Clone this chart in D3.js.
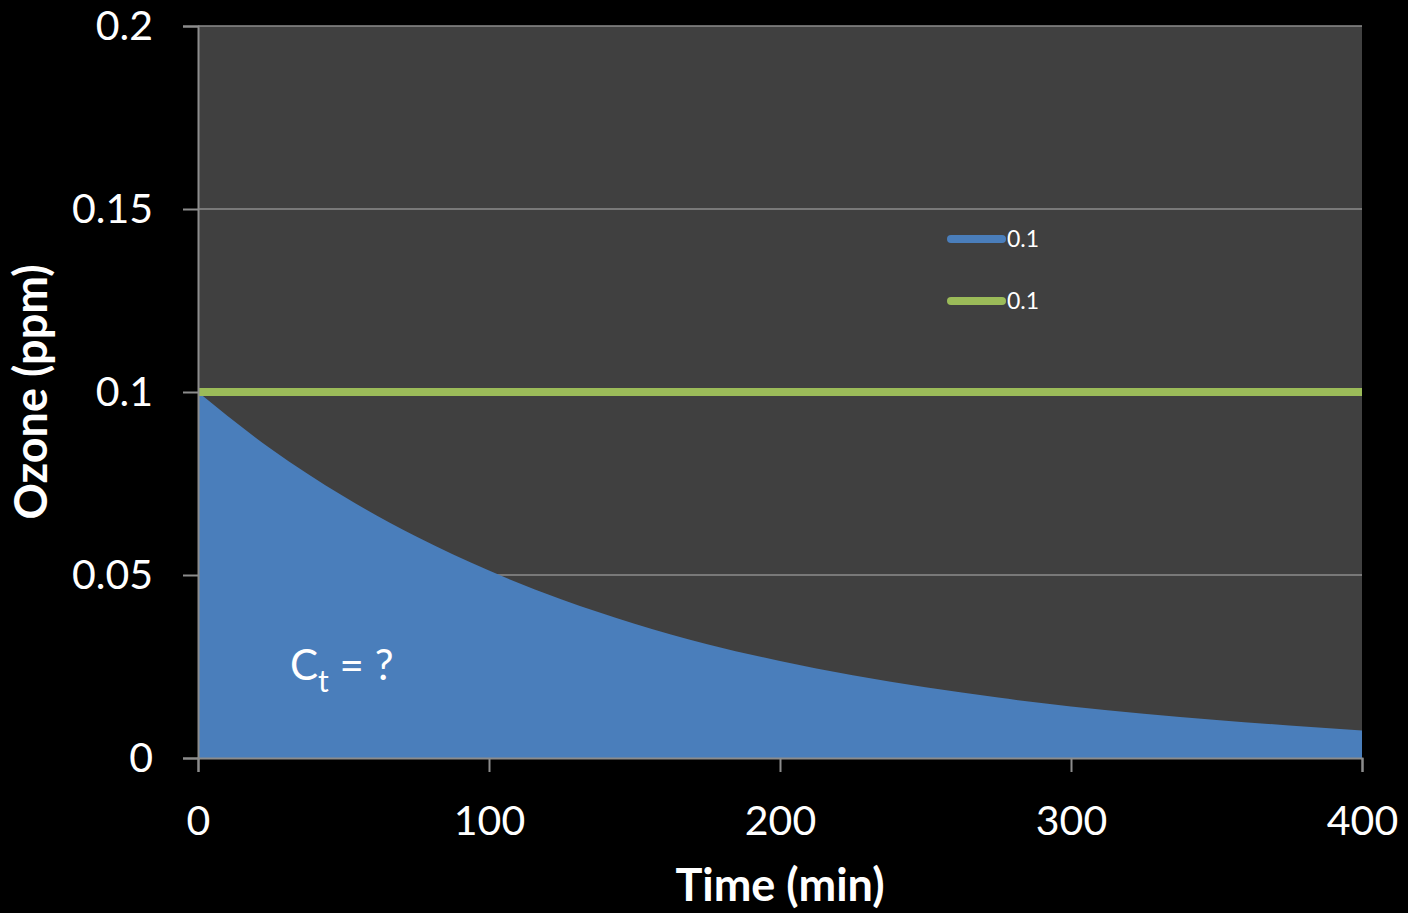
<!DOCTYPE html>
<html><head><meta charset="utf-8">
<script src="https://cdn.jsdelivr.net/npm/d3@7"></script>
<style>html,body{margin:0;padding:0;background:#000;}svg{display:block;}</style>
</head><body>
<script>
const times = [0, 25, 50, 75, 100, 125, 150, 175, 200, 225, 250, 275, 300, 325, 350, 375, 400];
const ozone = [0.100, 0.0845, 0.0715, 0.0605, 0.0512, 0.0433, 0.0367, 0.0311, 0.0265, 0.0226, 0.0193, 0.0165, 0.0141, 0.0121, 0.0104, 0.0089, 0.0075];
const constantLevel = [0.1, 0.1];
const constantTimes = [0, 400];
const xTicks = [0, 100, 200, 300, 400];
const yTicks = [0, 0.05, 0.1, 0.15, 0.2];
const yTickLabels = ["0", "0.05", "0.1", "0.15", "0.2"];
const legendLabels = ["0.1", "0.1"];

const W = 1408, H = 913;
const m = {left: 198, right: 1362, top: 26, bottom: 758};
const font = "Lato, 'Open Sans', sans-serif";

const svg = d3.select("body").append("svg").attr("width", W).attr("height", H);
svg.append("rect").attr("width", W).attr("height", H).attr("fill", "#000");

const x = d3.scaleLinear().domain([0, 400]).range([m.left, m.right]);
const y = d3.scaleLinear().domain([0, 0.2]).range([m.bottom, m.top]);

svg.append("rect").attr("x", m.left).attr("y", m.top)
  .attr("width", m.right - m.left).attr("height", m.bottom - m.top).attr("fill", "#404040");

// gridlines
svg.append("g").selectAll("line").data(yTicks.filter(d => d > 0)).join("line")
  .attr("x1", m.left).attr("x2", m.right)
  .attr("y1", d => y(d)).attr("y2", d => y(d))
  .attr("stroke", "#8c8c8c").attr("stroke-width", 1.5);

// area
const data = times.map((t, i) => ({t, v: ozone[i]}));
svg.append("path").datum(data)
  .attr("d", d3.area().x(d => x(d.t)).y0(y(0)).y1(d => y(d.v)).curve(d3.curveMonotoneX))
  .attr("fill", "#4a7ebb");

// green line
svg.append("path").datum(constantTimes.map((t, i) => ({t, v: constantLevel[i]})))
  .attr("d", d3.line().x(d => x(d.t)).y(d => y(d.v)))
  .attr("stroke", "#9bbb59").attr("stroke-width", 8).attr("fill", "none");

// axes
const yAxis = d3.axisLeft(y).tickValues(yTicks).tickFormat((d, i) => yTickLabels[i]).tickSize(15).tickPadding(30);
const gy = svg.append("g").attr("transform", `translate(${m.left},0)`).call(yAxis);
gy.select(".domain").attr("stroke", "#8c8c8c").attr("stroke-width", 2);
gy.selectAll(".tick line").attr("stroke", "#8c8c8c").attr("stroke-width", 2);
gy.selectAll(".tick text").attr("fill", "#fff").attr("font-size", 41).attr("font-family", font).attr("dy", "0.34em");

const xAxis = d3.axisBottom(x).tickValues(xTicks).tickFormat(d3.format("d")).tickSize(14).tickPadding(34);
const gx = svg.append("g").attr("transform", `translate(0,${m.bottom})`).call(xAxis);
gx.select(".domain").attr("stroke", "#8c8c8c").attr("stroke-width", 2);
gx.selectAll(".tick line").attr("stroke", "#8c8c8c").attr("stroke-width", 2);
gx.selectAll(".tick text").attr("fill", "#fff").attr("font-size", 41).attr("font-family", font);

// axis titles
svg.append("text").attr("x", 780).attr("y", 901)
  .attr("text-anchor", "middle").attr("fill", "#fff").attr("font-size", 45)
  .attr("font-weight", "bold").attr("font-family", font).text("Time (min)");
svg.append("text").attr("transform", `translate(47,${(m.top + m.bottom) / 2}) rotate(-90)`)
  .attr("text-anchor", "middle").attr("fill", "#fff").attr("font-size", 45)
  .attr("font-weight", "bold").attr("font-family", font).text("Ozone (ppm)");

// annotation
const ann = svg.append("text").attr("x", 290).attr("y", 680).attr("fill", "#fff")
  .attr("font-size", 42).attr("font-family", font);
ann.append("tspan").text("C");
ann.append("tspan").attr("font-size", 30).attr("dy", 12).text("t");
ann.append("tspan").attr("dy", -12).text(" = ?");

// legend
const legColors = ["#4a7ebb", "#9bbb59"];
const leg = svg.append("g");
legendLabels.forEach((lab, i) => {
  const ly = 239 + i * 62;
  leg.append("line").attr("x1", 951).attr("x2", 1002).attr("y1", ly).attr("y2", ly)
    .attr("stroke", legColors[i]).attr("stroke-width", 8).attr("stroke-linecap", "round");
  leg.append("text").attr("x", 1007).attr("y", ly).attr("dy", "0.35em")
    .attr("fill", "#fff").attr("font-size", 23).attr("font-family", font).text(lab);
});
</script>
</body></html>
